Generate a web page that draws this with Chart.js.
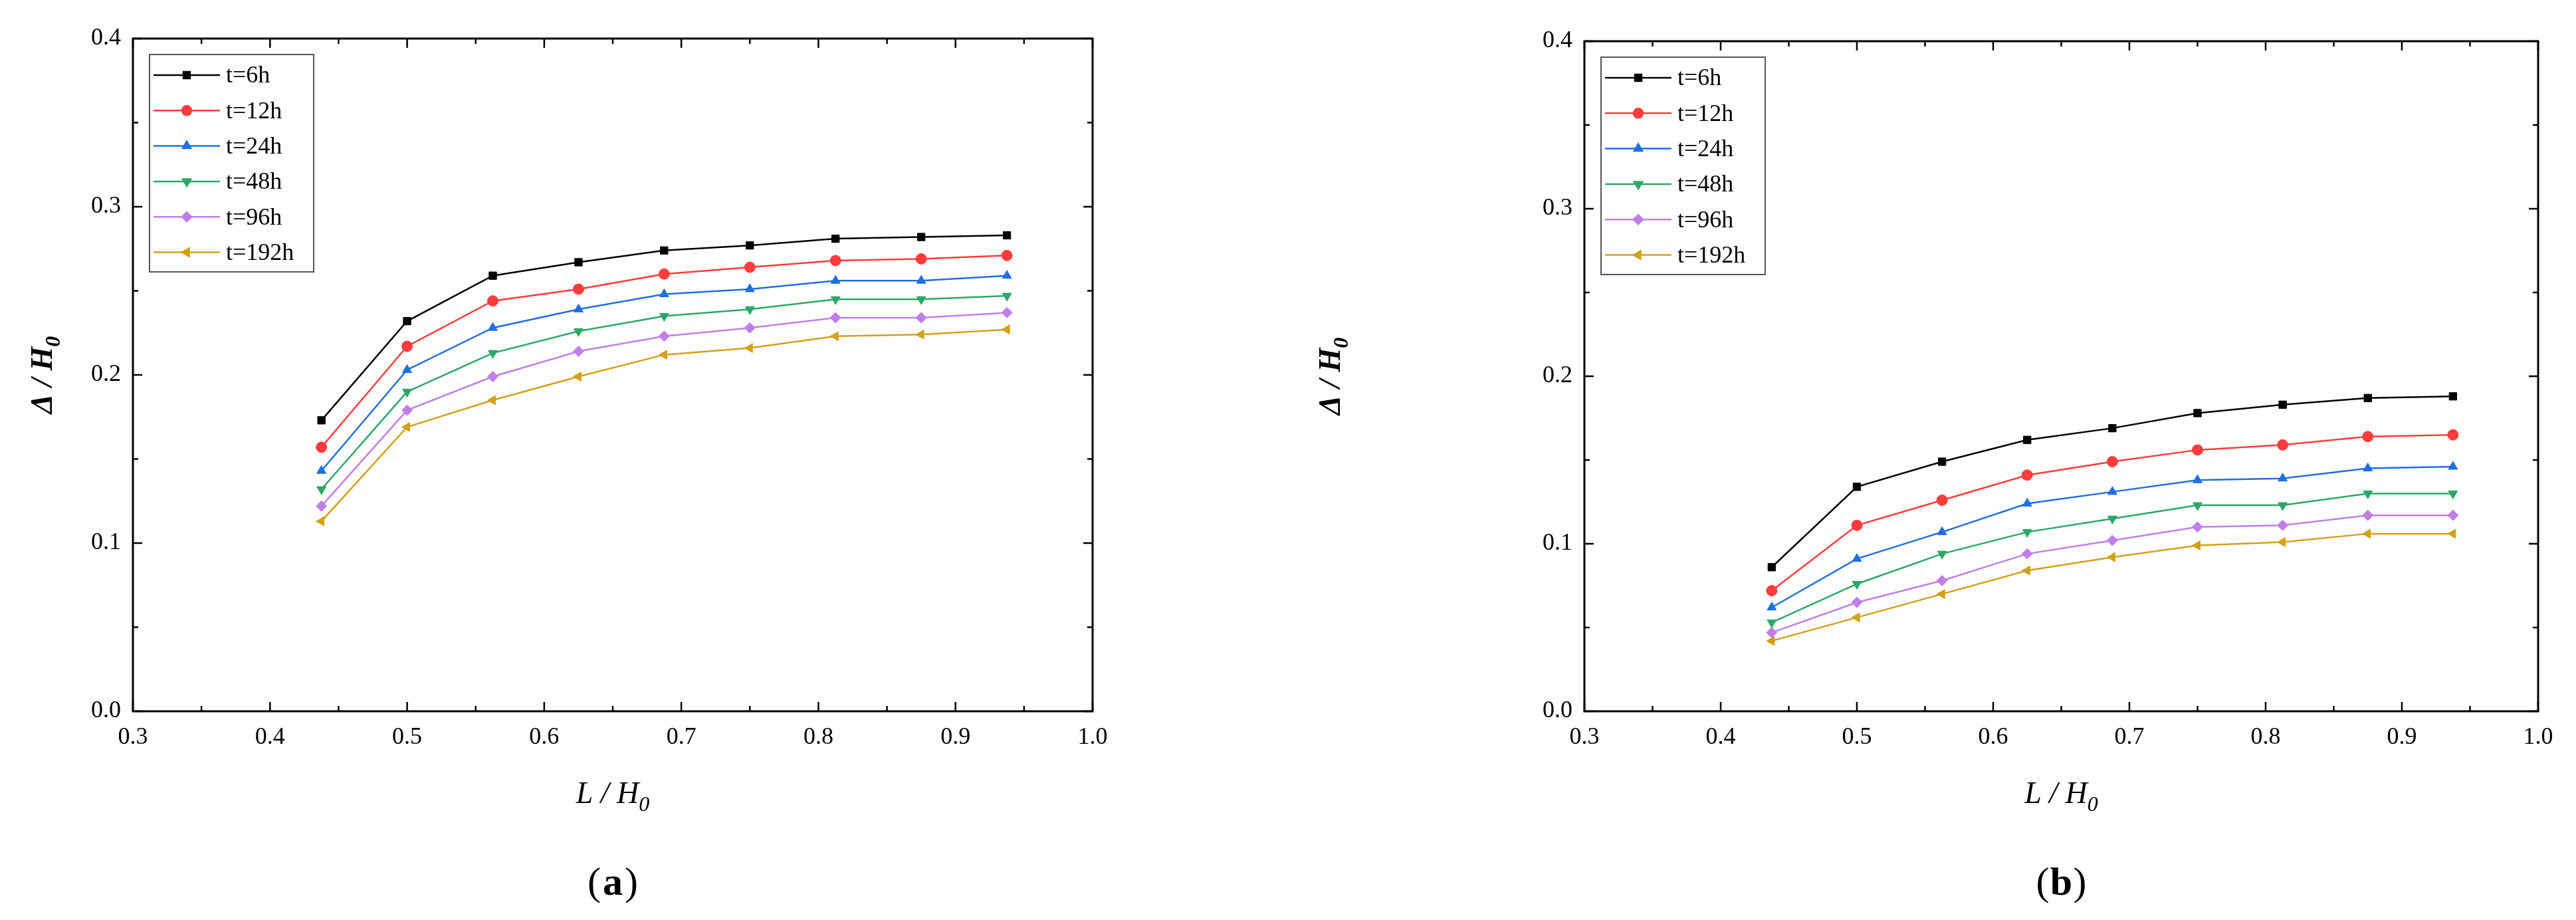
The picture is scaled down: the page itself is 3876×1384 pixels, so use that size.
<!DOCTYPE html>
<html><head><meta charset="utf-8">
<script src="https://cdn.jsdelivr.net/npm/chart.js@4"></script>
<style>body{margin:0;background:#fff;width:3876px;height:1384px;overflow:hidden}
.p{position:absolute;top:0;width:1938px;height:1384px}</style></head>
<body><div class="p" style="left:0"><canvas id="ca"></canvas></div><div class="p" style="left:1938px"><canvas id="cb"></canvas></div>
<script>
const xValues=[0.4375,0.5,0.5625,0.625,0.6875,0.75,0.8125,0.875,0.9375];
const seriesLabels=['t=6h','t=12h','t=24h','t=48h','t=96h','t=192h'];
const a6=[0.173,0.232,0.259,0.267,0.274,0.277,0.281,0.282,0.283];
const a12=[0.157,0.217,0.244,0.251,0.260,0.264,0.268,0.269,0.271];
const a24=[0.143,0.203,0.228,0.239,0.248,0.251,0.256,0.256,0.259];
const a48=[0.132,0.190,0.213,0.226,0.235,0.239,0.245,0.245,0.247];
const a96=[0.122,0.179,0.199,0.214,0.223,0.228,0.234,0.234,0.237];
const a192=[0.113,0.169,0.185,0.199,0.212,0.216,0.223,0.224,0.227];
const b6=[0.086,0.134,0.149,0.162,0.169,0.178,0.183,0.187,0.188];
const b12=[0.072,0.111,0.126,0.141,0.149,0.156,0.159,0.164,0.165];
const b24=[0.062,0.091,0.107,0.124,0.131,0.138,0.139,0.145,0.146];
const b48=[0.053,0.076,0.094,0.107,0.115,0.123,0.123,0.130,0.130];
const b96=[0.047,0.065,0.078,0.094,0.102,0.110,0.111,0.117,0.117];
const b192=[0.042,0.056,0.070,0.084,0.092,0.099,0.101,0.106,0.106];
const colors=['#000000','#ff3c3c','#1f6fe0','#2aa866','#c07fe8','#d4a017'];
const styles=['rect','circle','triangle','triangle','rectRot','triangle'];
const rots=[0,0,0,180,0,-90];
const SERIF='"Liberation Serif","DejaVu Serif",serif';

function frame(panelLabel){return{id:'fr',afterDraw(c){
 const ctx=c.ctx,a=c.chartArea,xs=c.scales.x,ys=c.scales.y;
 ctx.save();ctx.strokeStyle='#000';ctx.lineWidth=3;
 ctx.strokeRect(a.left,a.top,a.right-a.left,a.bottom-a.top);
 ctx.lineWidth=2.5;
 for(let v=0.3;v<=1.0001;v+=0.05){const x=xs.getPixelForValue(v);const L=(Math.round(v*100)%10===0)?14:8;
  ctx.beginPath();ctx.moveTo(x,a.bottom);ctx.lineTo(x,a.bottom-L);ctx.moveTo(x,a.top);ctx.lineTo(x,a.top+L);ctx.stroke();}
 for(let v=0;v<=0.4001;v+=0.05){const y=ys.getPixelForValue(v);const L=(Math.round(v*100)%10===0)?14:8;
  ctx.beginPath();ctx.moveTo(a.left,y);ctx.lineTo(a.left+L,y);ctx.moveTo(a.right,y);ctx.lineTo(a.right-L,y);ctx.stroke();}
 // legend
 const lx=a.left+25,ly=a.top+24,lw=247,lh=327;
 ctx.lineWidth=2;ctx.strokeStyle='#555';ctx.strokeRect(lx,ly,lw,lh);
 ctx.font='36px '+SERIF;ctx.textBaseline='middle';ctx.fillStyle='#000';
 c.data.datasets.forEach((d,i)=>{const y=ly+31+i*53.3;
  ctx.strokeStyle=d.borderColor;ctx.lineWidth=2.5;ctx.beginPath();ctx.moveTo(lx+6,y);ctx.lineTo(lx+106,y);ctx.stroke();
  ctx.fillStyle=d.borderColor;Chart.helpers.drawPoint(ctx,{pointStyle:d.pointStyle,rotation:d.rotation,radius:7,borderWidth:1},lx+56,y);
  ctx.fillStyle='#000';ctx.fillText(d.label,lx+115,y+2);});
 // axis titles
 const cx=(a.left+a.right)/2;ctx.textBaseline='alphabetic';
 ctx.font='italic 46px '+SERIF;ctx.textAlign='left';
 const t1='L / H',w1=ctx.measureText(t1).width;ctx.font='italic 32px '+SERIF;const w2=ctx.measureText('0').width;
 let sx=cx-(w1+w2)/2;ctx.font='italic 46px '+SERIF;ctx.fillText(t1,sx,1208);ctx.font='italic 32px '+SERIF;ctx.fillText('0',sx+w1,1220);
 ctx.save();ctx.translate(78,(a.top+a.bottom)/2);ctx.rotate(-Math.PI/2);
 ctx.font='italic bold 46px '+SERIF;const t2='Δ / H',w3=ctx.measureText(t2).width;ctx.font='italic bold 32px '+SERIF;
 sx=-(w3+w2)/2;ctx.font='italic bold 46px '+SERIF;ctx.fillText(t2,sx,0);ctx.font='italic bold 32px '+SERIF;ctx.fillText('0',sx+w3,12);ctx.restore();
 ctx.font='60px '+SERIF;ctx.textAlign='center';ctx.fillText('(',cx-28,1346);ctx.fillText(')',cx+28,1346);
 ctx.font='bold 60px '+SERIF;ctx.fillText(panelLabel,cx,1346);
 ctx.restore();}}}

function make(id,data,lab,left,top,right){
 const ds=data.map((arr,i)=>({label:seriesLabels[i],data:xValues.map((x,j)=>({x:x,y:arr[j]})),borderColor:colors[i],backgroundColor:colors[i],
  pointStyle:styles[i],rotation:rots[i],pointRadius:8,borderWidth:2.5,pointBorderWidth:1,tension:0}));
 new Chart(document.getElementById(id),{type:'line',data:{datasets:ds},plugins:[frame(lab)],
  options:{responsive:false,animation:false,devicePixelRatio:1,
   layout:{padding:{left:0,top:top,right:right,bottom:114}},
   plugins:{legend:{display:false},tooltip:{enabled:false}},
   scales:{x:{type:'linear',min:0.3,max:1.0,grid:{display:false},border:{display:false},
     ticks:{stepSize:0.1,color:'#000',font:{family:SERIF,size:36},padding:10,callback:v=>v.toFixed(1)},
     afterFit:s=>{s.height=200;}},
    y:{min:0,max:0.4,grid:{display:false},border:{display:false},
     ticks:{stepSize:0.1,color:'#000',font:{family:SERIF,size:36},padding:10,callback:v=>v.toFixed(1)},
     afterFit:s=>{s.width=left;}}}}});
}
for(const id of ['ca','cb']){const c=document.getElementById(id);c.width=1938;c.height=1384;}
make('ca',[a6,a12,a24,a48,a96,a192],'a',200,58,294);
make('cb',[b6,b12,b24,b48,b96,b192],'b',446,62,57);
</script></body></html>
